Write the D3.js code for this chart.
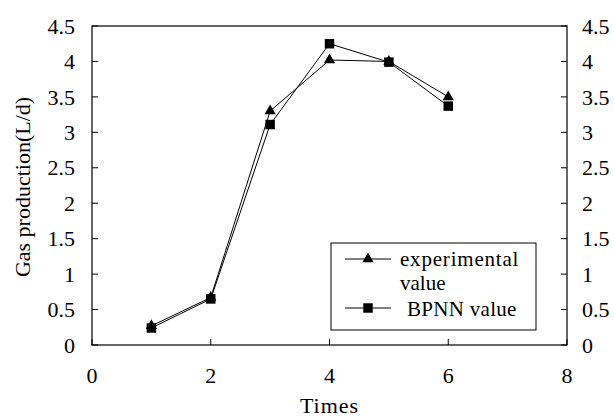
<html>
<head>
<script src="https://d3js.org/d3.v7.min.js"></script>
<style>
  body { margin: 0; background: #fff; }
  svg { display: block; }
  text { font-family: "Liberation Serif", "Times New Roman", serif; fill: #000; }
</style>
</head>
<body>
<svg width="614" height="417"></svg>
<script>
// data
var times = [1, 2, 3, 4, 5, 6];
var experimental = [0.27, 0.67, 3.30, 4.02, 4.00, 3.50];
var bpnn = [0.24, 0.65, 3.11, 4.25, 3.99, 3.37];
var xTicks = [0, 2, 4, 6, 8];
var yTicks = [0, 0.5, 1, 1.5, 2, 2.5, 3, 3.5, 4, 4.5];

var svg = d3.select("svg");
var pLeft = 92, pRight = 567, pTop = 26, pBottom = 345;
var fs = "22px";

var x = d3.scaleLinear().domain([0, 8]).range([pLeft, pRight]);
var y = d3.scaleLinear().domain([0, 4.5]).range([pBottom, pTop]);

// frame
svg.append("rect")
  .attr("x", pLeft).attr("y", pTop)
  .attr("width", pRight - pLeft).attr("height", pBottom - pTop)
  .attr("fill", "none").attr("stroke", "#000").attr("stroke-width", 1.2);

// ticks (pointing inward)
var g = svg.append("g");
g.selectAll(".ly").data(yTicks).enter().append("line")
  .attr("x1", pLeft).attr("x2", pLeft + 6)
  .attr("y1", function(d) { return y(d); }).attr("y2", function(d) { return y(d); })
  .attr("stroke", "#000");
g.selectAll(".ry").data(yTicks).enter().append("line")
  .attr("x1", pRight).attr("x2", pRight - 6)
  .attr("y1", function(d) { return y(d); }).attr("y2", function(d) { return y(d); })
  .attr("stroke", "#000");
g.selectAll(".bx").data(xTicks).enter().append("line")
  .attr("x1", function(d) { return x(d); }).attr("x2", function(d) { return x(d); })
  .attr("y1", pBottom).attr("y2", pBottom - 6)
  .attr("stroke", "#000");

// tick labels
g.selectAll(".lyl").data(yTicks).enter().append("text")
  .attr("x", pLeft - 17).attr("y", function(d) { return y(d); })
  .attr("dy", "0.35em").attr("text-anchor", "end")
  .style("font-size", fs).text(function(d) { return d; });
g.selectAll(".ryl").data(yTicks).enter().append("text")
  .attr("x", pRight + 15).attr("y", function(d) { return y(d); })
  .attr("dy", "0.35em").attr("text-anchor", "start")
  .style("font-size", fs).text(function(d) { return d; });
g.selectAll(".bxl").data(xTicks).enter().append("text")
  .attr("x", function(d) { return x(d); }).attr("y", 375)
  .attr("dy", "0.35em").attr("text-anchor", "middle")
  .style("font-size", fs).text(function(d) { return d; });

// axis titles
svg.append("text")
  .attr("x", x(4)).attr("y", 413)
  .attr("text-anchor", "middle").style("font-size", fs)
  .style("letter-spacing", "1px")
  .text("Times");
svg.append("text")
  .attr("transform", "translate(30," + 187 + ") rotate(-90)")
  .attr("text-anchor", "middle").style("font-size", fs)
  .text("Gas production(L/d)");

// series lines
var line = d3.line()
  .x(function(d, i) { return x(times[i]); })
  .y(function(d) { return y(d); });

svg.append("path").datum(experimental)
  .attr("d", line).attr("fill", "none").attr("stroke", "#000").attr("stroke-width", 1);
svg.append("path").datum(bpnn)
  .attr("d", line).attr("fill", "none").attr("stroke", "#000").attr("stroke-width", 1);

var tri = d3.symbol().type(d3.symbolTriangle).size(55);
var sq = d3.symbol().type(d3.symbolSquare).size(90);

svg.selectAll(".sq").data(bpnn).enter().append("path")
  .attr("d", sq)
  .attr("transform", function(d, i) { return "translate(" + x(times[i]) + "," + y(d) + ")"; })
  .attr("fill", "#000");
svg.selectAll(".tri").data(experimental).enter().append("path")
  .attr("d", tri)
  .attr("transform", function(d, i) { return "translate(" + x(times[i]) + "," + y(d) + ")"; })
  .attr("fill", "#000");

// legend
var lfs = "21px";
var lg = svg.append("g");
lg.append("rect")
  .attr("x", 331).attr("y", 243).attr("width", 205).attr("height", 87)
  .attr("fill", "#fff").attr("stroke", "#000").attr("stroke-width", 1);
lg.append("line").attr("x1", 345).attr("x2", 391).attr("y1", 259).attr("y2", 259).attr("stroke", "#000");
lg.append("path").attr("d", tri).attr("transform", "translate(368,259)").attr("fill", "#000");
lg.append("text").attr("x", 400).attr("y", 266).style("font-size", lfs).style("letter-spacing", "0.8px").text("experimental");
lg.append("text").attr("x", 400).attr("y", 290).style("font-size", lfs).text("value");
lg.append("line").attr("x1", 345).attr("x2", 391).attr("y1", 308).attr("y2", 308).attr("stroke", "#000");
lg.append("path").attr("d", sq).attr("transform", "translate(368,308)").attr("fill", "#000");
lg.append("text").attr("x", 407).attr("y", 316).style("font-size", lfs).style("letter-spacing", "0.3px").text("BPNN value");
</script>
</body>
</html>
